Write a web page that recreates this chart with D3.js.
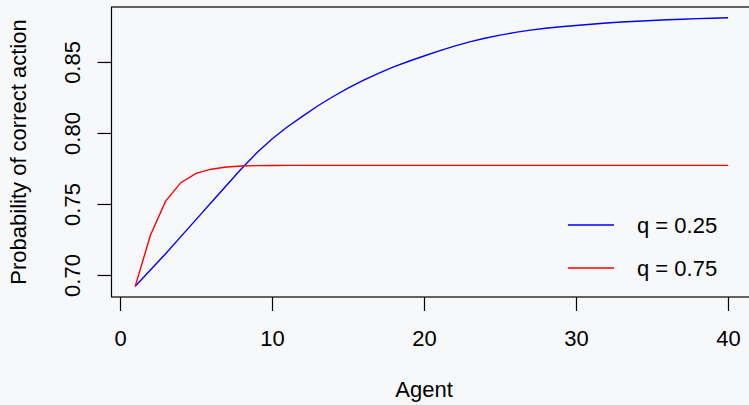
<!DOCTYPE html>
<html>
<head>
<meta charset="utf-8">
<script src="https://cdn.jsdelivr.net/npm/d3@7"></script>
<style>
  body { margin: 0; background: #f7f8fa; }
  text { font-family: "Liberation Sans", Arial, sans-serif; fill: #000; }
</style>
</head>
<body>
<div id="chart"></div>
<script>
var width = 749;
var height = 405;
var fontSize = 22;

// agent index 1..40
var agents = d3.range(1, 41);

// q = 0.25 (blue)
var probLow = [0.692, 0.7035, 0.7150, 0.7270, 0.7390, 0.7510, 0.7630, 0.7750, 0.7860, 0.7958,
    0.8042, 0.8117, 0.8190, 0.8255, 0.8315, 0.8370, 0.8420, 0.8465, 0.8505, 0.8542,
    0.8578, 0.8612, 0.8641, 0.8667, 0.8689, 0.8708, 0.8724, 0.8737, 0.8748, 0.8757,
    0.8766, 0.8774, 0.8781, 0.8787, 0.8792, 0.8797, 0.8801, 0.8805, 0.8808, 0.8811];

// q = 0.75 (red)
var probHigh = [0.692, 0.728, 0.752, 0.765, 0.7715, 0.7745, 0.776, 0.7767, 0.777, 0.7771,
    0.7772, 0.7772, 0.7772, 0.7772, 0.7772, 0.7772, 0.7772, 0.7772, 0.7772, 0.7772,
    0.7772, 0.7772, 0.7772, 0.7772, 0.7772, 0.7772, 0.7772, 0.7772, 0.7772, 0.7772,
    0.7772, 0.7772, 0.7772, 0.7772, 0.7772, 0.7772, 0.7772, 0.7772, 0.7772, 0.7772];

var xTicks = [0, 10, 20, 30, 40];
var yTicks = [0.70, 0.75, 0.80, 0.85];
var seriesNames = ['q = 0.25', 'q = 0.75'];
var seriesColors = ['#0000ff', '#ff0000'];

var svg = d3.select('#chart').append('svg')
    .attr('width', width)
    .attr('height', height);

svg.append('rect')
    .attr('width', width)
    .attr('height', height)
    .attr('fill', '#f7f8fa');

var x = d3.scaleLinear().domain([-0.56, 41.56]).range([111.5, 751.7]);
var y = d3.scaleLinear().domain([0.6845, 0.8887]).range([297, 7]);

// plot box
svg.append('rect')
    .attr('x', x.range()[0])
    .attr('y', y.range()[1])
    .attr('width', x.range()[1] - x.range()[0])
    .attr('height', y.range()[0] - y.range()[1])
    .attr('fill', 'none')
    .attr('stroke', '#000')
    .attr('stroke-width', 1.2);

// x axis
var xAxis = svg.append('g')
    .attr('transform', 'translate(0,' + y.range()[0] + ')')
    .call(d3.axisBottom(x).tickValues(xTicks).tickSize(14).tickPadding(19).tickFormat(d3.format('d')));
xAxis.select('.domain').remove();
xAxis.selectAll('line').attr('stroke-width', 1.2);
xAxis.selectAll('text').attr('font-size', fontSize).attr('font-family', '"Liberation Sans", Arial, sans-serif');

// y axis
var yAxis = svg.append('g')
    .attr('transform', 'translate(' + x.range()[0] + ',0)')
    .call(d3.axisLeft(y).tickValues(yTicks).tickSize(14).tickFormat(d3.format('.2f')));
yAxis.select('.domain').remove();
yAxis.selectAll('line').attr('stroke-width', 1.2);
yAxis.selectAll('text').remove();
yAxis.selectAll('.tick').append('text')
    .attr('transform', 'translate(-32,0) rotate(-90)')
    .attr('text-anchor', 'middle')
    .attr('font-size', fontSize)
    .attr('fill', '#000')
    .text(d => d3.format('.2f')(d));

// axis titles
svg.append('text')
    .attr('x', (x(0) + x(40)) / 2)
    .attr('y', 397)
    .attr('text-anchor', 'middle')
    .attr('font-size', fontSize)
    .text('Agent');

svg.append('text')
    .attr('transform', 'translate(26,' + (y.range()[0] + y.range()[1]) / 2 + ') rotate(-90)')
    .attr('text-anchor', 'middle')
    .attr('font-size', fontSize)
    .text('Probability of correct action');

// lines
var line = d3.line()
    .x((d, i) => x(agents[i]))
    .y(d => y(d));

[probLow, probHigh].forEach(function (s, k) {
    svg.append('path')
        .datum(s)
        .attr('d', line)
        .attr('fill', 'none')
        .attr('stroke', seriesColors[k])
        .attr('stroke-width', 1.4);
});

// legend
var legend = svg.append('g');
seriesNames.forEach(function (name, k) {
    var ly = 225 + k * 43;
    legend.append('line')
        .attr('x1', 568)
        .attr('x2', 614)
        .attr('y1', ly)
        .attr('y2', ly)
        .attr('stroke', seriesColors[k])
        .attr('stroke-width', 1.4);
    legend.append('text')
        .attr('x', 637)
        .attr('y', ly)
        .attr('dy', '0.35em')
        .attr('font-size', fontSize)
        .text(name);
});
</script>
</body>
</html>
